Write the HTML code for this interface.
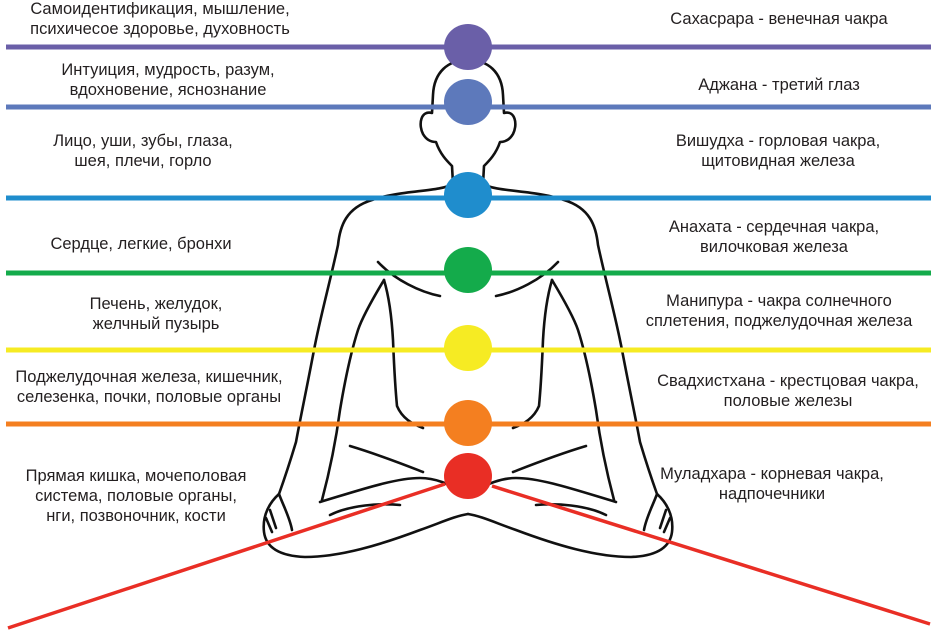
<!DOCTYPE html>
<html><head><meta charset="utf-8"><style>
html,body{margin:0;padding:0;background:#fff}
body{width:936px;height:631px;position:relative;overflow:hidden;font-family:"Liberation Sans",Arial,sans-serif;}
.t{position:absolute;font-size:16.5px;line-height:20px;color:#231f20;text-align:center;white-space:nowrap;transform:translateX(-50%)}
</style></head><body>
<svg width="936" height="631" style="position:absolute;left:0;top:0">
<g fill="none" stroke="#111" stroke-width="2.6" stroke-linecap="round" stroke-linejoin="round">
<g id="h">
<path d="M468,60 C448,60 434,72 433,95 L432,113 C421,110 418,124 423,134 C427,141 432,142 436,142 C440,154 447,161 452,166 L453,184 C440,192 400,190 372,200 C346,208 340,226 338,245 C330,282 320,318 314,350 C306,392 300,420 296,442 C290,462 284,480 279,494 C270,502 262,515 264,532 C266,548 280,556 305,557 C340,557 380,545 420,530 C440,523 455,516 468,514"/>
<path d="M279,494 C283,505 290,518 292,530 M270,510 L276,528 M266,518 L272,532"/>
<path d="M378,262 C395,280 420,292 440,296"/>
<path d="M384,280 C390,300 392,322 393,340 C394,365 395,385 397,406 C402,418 412,424 423,428"/>
<path d="M384,280 C372,300 362,318 358,330 C350,355 345,380 340,410 C336,440 330,470 322,500"/>
<path d="M350,446 C380,455 405,465 423,472"/>
<path d="M320,502 C360,490 395,478 420,478 C440,478 455,488 468,494"/>
<path d="M330,515 C350,505 380,503 400,505"/>
</g>
<use href="#h" transform="translate(936,0) scale(-1,1)"/>
</g>
<g stroke-width="5">
<line x1="6" y1="47" x2="931" y2="47" stroke="#6a5fa8"/>
<line x1="6" y1="107" x2="931" y2="107" stroke="#5d79bb"/>
<line x1="6" y1="198" x2="931" y2="198" stroke="#1f8dcd"/>
<line x1="6" y1="273" x2="931" y2="273" stroke="#14ab4b"/>
<line x1="6" y1="350" x2="931" y2="350" stroke="#f6eb23"/>
<line x1="6" y1="424" x2="931" y2="424" stroke="#f47f20"/>
</g>
<g stroke="#e92e25" stroke-width="3.5">
<line x1="445" y1="484" x2="8" y2="628"/>
<line x1="492" y1="486" x2="930" y2="624"/>
</g>
<ellipse cx="468" cy="47" rx="24" ry="23" fill="#6a5fa8"/>
<ellipse cx="468" cy="102" rx="24" ry="23" fill="#5d79bb"/>
<ellipse cx="468" cy="195" rx="24" ry="23" fill="#1f8dcd"/>
<ellipse cx="468" cy="270" rx="24" ry="23" fill="#14ab4b"/>
<ellipse cx="468" cy="348" rx="24" ry="23" fill="#f6eb23"/>
<ellipse cx="468" cy="423" rx="24" ry="23" fill="#f47f20"/>
<ellipse cx="468" cy="476" rx="24" ry="23" fill="#e92e25"/>
</svg>
<div class="t" style="left:160px;top:-1px">Самоидентификация, мышление,<br>психичесое здоровье, духовность</div>
<div class="t" style="left:168px;top:60px">Интуиция, мудрость, разум,<br>вдохновение, яснознание</div>
<div class="t" style="left:143px;top:131px">Лицо, уши, зубы, глаза,<br>шея, плечи, горло</div>
<div class="t" style="left:141px;top:234px">Сердце, легкие, бронхи</div>
<div class="t" style="left:156px;top:294px">Печень, желудок,<br>желчный пузырь</div>
<div class="t" style="left:149px;top:367px">Поджелудочная железа, кишечник,<br>селезенка, почки, половые органы</div>
<div class="t" style="left:136px;top:466px">Прямая кишка, мочеполовая<br>система, половые органы,<br>нги, позвоночник, кости</div>
<div class="t" style="left:779px;top:9px">Сахасрара - венечная чакра</div>
<div class="t" style="left:779px;top:75px">Аджана - третий глаз</div>
<div class="t" style="left:778px;top:131px">Вишудха - горловая чакра,<br>щитовидная железа</div>
<div class="t" style="left:774px;top:217px">Анахата - сердечная чакра,<br>вилочковая железа</div>
<div class="t" style="left:779px;top:291px">Манипура - чакра солнечного<br>сплетения, поджелудочная железа</div>
<div class="t" style="left:788px;top:371px">Свадхистхана - крестцовая чакра,<br>половые железы</div>
<div class="t" style="left:772px;top:464px">Муладхара - корневая чакра,<br>надпочечники</div>
</body></html>
